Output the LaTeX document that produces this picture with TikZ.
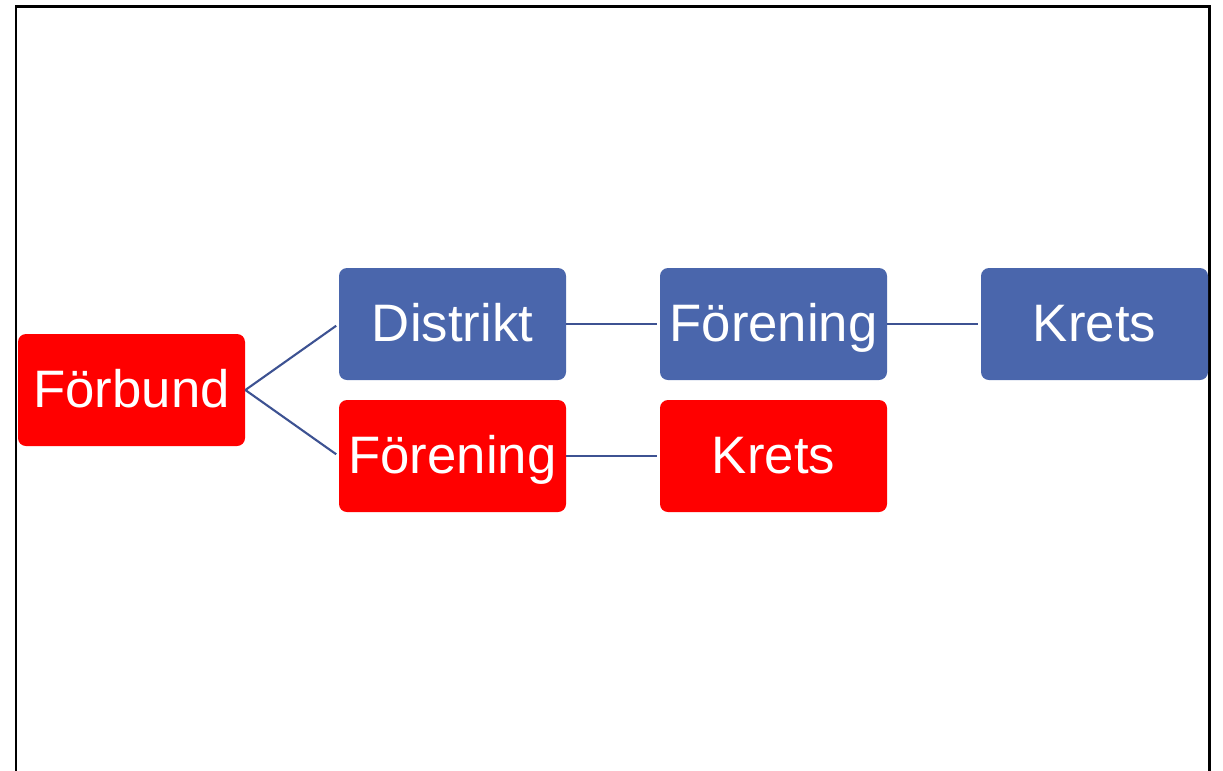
\documentclass[tikz,border=0pt]{standalone}
\usepackage{fontspec}
\setmainfont{Liberation Sans}
\definecolor{boxblue}{HTML}{4A66AC}
\definecolor{boxred}{HTML}{FF0000}
\definecolor{linkblue}{HTML}{3D5292}
\tikzset{
    unit/.style={rectangle, rounded corners=0.16cm, minimum width=4.54cm, minimum height=2.24cm,
        inner sep=0pt, text height=19.6pt, text depth=0pt, text=white, font=\fontsize{30}{36}\selectfont},
    blueunit/.style={unit, fill=boxblue},
    redunit/.style={unit, fill=boxred},
    link/.style={draw=linkblue, line width=1.2pt, shorten >=0.06cm}
}
\begin{document}
\begin{tikzpicture}
        \useasboundingbox (0,0) rectangle (24.46,-15.4);
        \begin{scope}
            \clip (0,0) rectangle (24.46,-15.4);
            \draw [line width=1.7pt] (0.32,-16) -- (0.32,-0.12) -- (24.18,-0.12) -- (24.18,-16);
        \end{scope}
        \node [redunit] (forbund) at (2.63,-7.80) {Förbund};
        \node [blueunit] (distrikt) at (9.05,-6.48) {Distrikt};
        \node [blueunit] (forening1) at (15.47,-6.48) {Förening};
        \node [blueunit] (krets1) at (21.89,-6.48) {Krets};
        \node [redunit] (forening2) at (9.05,-9.12) {Förening};
        \node [redunit] (krets2) at (15.47,-9.12) {Krets};
        \draw [link] (forbund.east) -- (distrikt.west);
        \draw [link] (forbund.east) -- (forening2.west);
        \draw [link] (distrikt.east) -- (forening1.west);
        \draw [link] (forening1.east) -- (krets1.west);
        \draw [link] (forening2.east) -- (krets2.west);
    \end{tikzpicture}
\end{document}
